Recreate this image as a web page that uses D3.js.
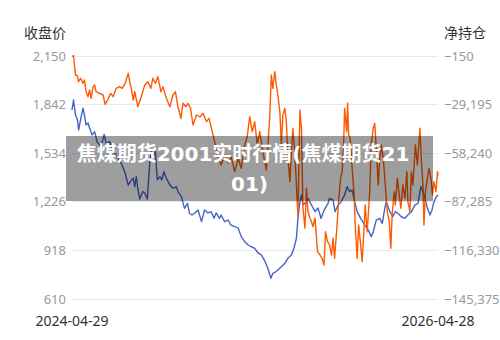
<!DOCTYPE html>
<html>
<head>
<meta charset="utf-8">
<script src="https://cdn.jsdelivr.net/npm/d3@7/dist/d3.min.js"></script>
<style>
html,body{margin:0;padding:0;background:#fff;}
svg{display:block;font-family:"Noto Sans","Noto Sans CJK SC",sans-serif;}
</style>
</head>
<body>
<svg id="chart" width="500" height="340"></svg>
<script>
const startDate = "2024-04-29";
const endDate = "2026-04-28";
const leftTicks = [610, 918, 1226, 1534, 1842, 2150];
const rightTicks = [-145375, -116330, -87285, -58240, -29195, -150];
const leftTitle = "收盘价";
const rightTitle = "净持仓";
const chartTitle = "焦煤期货2001实时行情(焦煤期货2101)";

// close price: day offset from start, value
const closeDays = [0,3,7,11,13,19,22,24,28,32,35,40,45,50,58,64,68,75,82,90,98,105,112,117,122,125,128,131,135,141,145,150,155,158,163,166,170,175,179,183,188,195,201,208,211,218,224,230,234,239,244,251,258,264,271,277,283,287,294,297,304,311,316,324,331,337,344,351,357,364,371,377,384,390,396,400,405,410,417,424,430,437,442,447,450,454,457,460,467,470,477,484,490,496,500,504,510,513,520,524,530,536,543,548,553,558,563,568,575,583,590,596,600,606,613,618,623,626,633,639,644,649,656,663,669,676,683,689,695,699,703,708,713,717,721,726,729];
const closeValues = [1805,1868,1773,1742,1678,1773,1816,1786,1710,1723,1691,1647,1668,1604,1573,1651,1594,1604,1541,1509,1467,1414,1330,1355,1372,1319,1383,1309,1241,1288,1279,1241,1478,1541,1520,1541,1362,1383,1362,1414,1372,1330,1309,1319,1288,1256,1182,1214,1151,1140,1151,1172,1098,1172,1153,1161,1119,1153,1119,1140,1098,1108,1077,1066,1058,1003,971,950,939,929,898,887,849,803,739,771,779,792,813,834,866,887,929,993,1119,1224,1267,1203,1224,1246,1203,1161,1184,1119,1153,1182,1214,1246,1235,1161,1203,1224,1267,1319,1288,1298,1224,1161,1119,1077,1045,1003,1034,1108,1119,1087,1182,1224,1161,1129,1161,1151,1129,1119,1140,1161,1203,1214,1319,1288,1246,1182,1140,1172,1224,1256,1267];

// net position: day offset from start, value
const netDays = [0,3,7,11,13,17,22,25,28,32,35,38,42,45,48,55,62,66,72,77,82,88,95,100,106,112,115,118,122,125,131,138,145,151,157,161,166,171,177,181,188,195,201,206,211,217,221,227,231,236,241,248,255,261,268,273,277,284,291,297,304,311,317,324,331,337,344,349,354,359,364,369,374,380,387,390,394,397,400,404,407,410,414,417,420,424,427,430,434,437,440,444,447,450,454,457,460,464,467,470,474,477,480,484,489,494,498,502,505,509,513,517,520,523,527,531,535,538,541,543,547,549,551,554,558,562,564,568,571,575,578,582,584,588,593,596,600,603,606,610,613,616,620,624,628,632,635,638,642,644,648,651,655,659,663,667,669,673,676,679,684,688,693,696,699,701,704,708,711,715,718,721,725,728,729];
const netValues = [-867,-150,-11794,-12391,-15795,-13765,-16750,-14780,-21766,-24752,-20751,-25708,-18781,-17766,-21766,-22722,-23737,-29290,-26126,-22722,-24752,-19736,-18781,-19736,-16750,-10779,-15795,-19736,-26723,-21766,-30724,-24752,-17766,-15795,-19736,-13765,-16750,-12809,-21766,-18781,-25708,-30724,-23737,-21766,-30724,-37650,-28693,-30724,-28693,-31500,-41651,-35680,-36874,-34665,-39681,-37650,-42666,-51624,-61536,-65536,-59566,-64343,-60581,-69538,-61536,-67507,-53594,-48638,-36695,-45652,-39681,-53594,-45652,-57594,-68523,-55565,-35680,-11794,-19736,-9824,-17766,-23737,-33709,-53594,-35680,-31679,-39681,-61536,-75509,-57594,-43622,-59566,-77480,-96409,-32694,-43622,-91393,-103336,-79450,-93423,-97364,-99395,-102380,-97185,-117309,-119279,-121250,-125251,-105366,-111337,-113308,-119279,-109307,-121250,-105366,-87452,-73479,-69538,-53594,-31679,-45652,-28693,-47622,-49414,-67507,-83451,-101366,-121250,-101366,-113308,-123281,-101366,-89422,-105366,-81480,-53594,-43622,-40636,-55565,-77480,-61536,-53594,-61536,-77480,-93423,-99395,-115278,-93423,-81480,-89422,-73479,-81480,-91393,-77480,-85422,-69538,-87452,-93423,-69538,-77480,-53594,-65536,-43622,-63566,-77480,-101366,-81480,-73479,-67507,-73479,-83451,-75509,-81480,-69538,-72000];

const svg = d3.select("#chart");
const m = {left: 72, right: 62, top: 55.5, bottom: 41.3};
const W = 500, H = 340;
const parse = d3.timeParse("%Y-%m-%d");
const t0 = parse(startDate), t1 = parse(endDate);

const x = d3.scaleTime().domain([t0, t1]).range([m.left, W - m.right]);
const yL = d3.scaleLinear().domain([610, 2150]).range([H - m.bottom, m.top]);
const yR = d3.scaleLinear().domain([-145375, -150]).range([H - m.bottom, m.top]);

// grid
svg.append("g").selectAll("line").data(leftTicks).join("line")
  .attr("x1", m.left).attr("x2", W - m.right)
  .attr("y1", d => Math.round(yL(d)) + 0.5).attr("y2", d => Math.round(yL(d)) + 0.5)
  .attr("stroke", "#e6e9f2").attr("stroke-width", 1);

// left axis
const gL = svg.append("g").attr("transform", `translate(${m.left - 6},0)`)
  .call(d3.axisLeft(yL).tickValues(leftTicks).tickSize(0).tickPadding(0).tickFormat(d3.format(",")));
gL.select(".domain").remove();
gL.selectAll("text").attr("fill", "#999").attr("font-size", 13).attr("dy", "0.35em")
  .style("font-family", "'Noto Sans',sans-serif");

// right axis
const gR = svg.append("g").attr("transform", `translate(${W - m.right + 6},0)`)
  .call(d3.axisRight(yR).tickValues(rightTicks).tickSize(0).tickPadding(0).tickFormat(d3.format(",")));
gR.select(".domain").remove();
gR.selectAll("text").attr("fill", "#999").attr("font-size", 13).attr("dy", "0.35em")
  .style("font-family", "'Noto Sans',sans-serif");

// axis titles
svg.append("text").attr("x", m.left - 6).attr("y", 38).attr("text-anchor", "end")
  .attr("fill", "#333").attr("font-size", 14).text(leftTitle)
  .style("font-family", "'Noto Sans CJK SC',sans-serif");
svg.append("text").attr("x", W - m.right + 6).attr("y", 38).attr("text-anchor", "start")
  .attr("fill", "#333").attr("font-size", 14).text(rightTitle)
  .style("font-family", "'Noto Sans CJK SC',sans-serif");

// x labels
const xLabels = [t0, t1];
svg.append("g").selectAll("text").data(xLabels).join("text")
  .attr("x", d => x(d)).attr("y", 326).attr("text-anchor", "middle")
  .attr("fill", "#333").attr("font-size", 14)
  .style("font-family", "'Noto Sans',sans-serif")
  .text(d3.timeFormat("%Y-%m-%d"));

// lines
const closeData = closeDays.map((d, i) => [d3.timeDay.offset(t0, d), closeValues[i]]);
const netData = netDays.map((d, i) => [d3.timeDay.offset(t0, d), netValues[i]]);

svg.append("path").datum(closeData)
  .attr("fill", "none").attr("stroke", "#4464c8").attr("stroke-width", 1.4).attr("stroke-linejoin", "round")
  .attr("d", d3.line().x(d => x(d[0])).y(d => yL(d[1])));
svg.append("path").datum(netData)
  .attr("fill", "none").attr("stroke", "#ff5a00").attr("stroke-width", 1.4).attr("stroke-linejoin", "round")
  .attr("d", d3.line().x(d => x(d[0])).y(d => yR(d[1])));

// title overlay
svg.append("rect").attr("x", 66).attr("y", 136).attr("width", 367).attr("height", 65)
  .attr("fill", "rgba(0,0,0,0.38)");
const tt = svg.append("text").attr("text-anchor", "middle").attr("fill", "#fff")
  .attr("font-size", 20).attr("font-weight", "bold")
  .style("font-family", "'DejaVu Sans','Noto Sans CJK SC',sans-serif");
tt.append("tspan").attr("x", 243).attr("y", 161).text(chartTitle.slice(0, 19));
tt.append("tspan").attr("x", 249.5).attr("y", 191).text(chartTitle.slice(19));
</script>
</body>
</html>
